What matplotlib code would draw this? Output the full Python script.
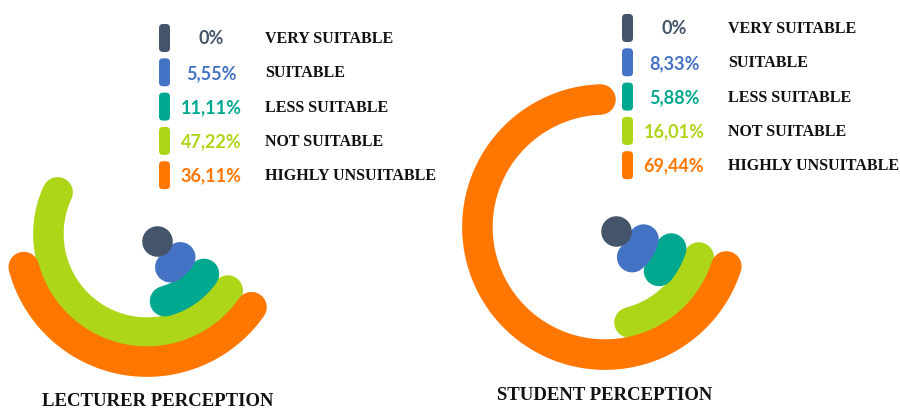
import numpy as np
import matplotlib.pyplot as plt
from matplotlib.patches import FancyBboxPatch

categories = ['VERY SUITABLE', 'SUITABLE', 'LESS SUITABLE', 'NOT SUITABLE', 'HIGHLY UNSUITABLE']
lecturer = [0, 5.55, 11.11, 47.22, 36.11]
student = [0, 8.33, 5.88, 16.01, 69.44]

colors = ['#44546A', '#4472C4', '#00A88F', '#AED619', '#FF7600']
zorders = [6, 5, 4, 2, 3]


def pct(v):
    if v == 0:
        return '0%'
    return '{:.2f}%'.format(v).replace('.', ',')


def draw_rings(ax, values, start=-35):
    """radial bars, each ring starts at the same angle and runs clockwise"""
    ax.set_theta_offset(np.deg2rad(start))
    ax.set_theta_direction(-1)
    for i, (v, c, z) in enumerate(zip(values, colors, zorders)):
        if v == 0:
            ax.plot([0], [i + 0.4], 'o', color=c, ms=22, mew=0, zorder=z)
            continue
        th = np.linspace(0, 2 * np.pi * v / 100, 200)
        ax.plot(th, np.full_like(th, i + 0.4), color=c, lw=22,
                solid_capstyle='round', zorder=z)
    ax.set_ylim(0, 5)
    ax.axis('off')


def draw_legend(ax, values, x0, y0, step=34.3):
    for i, (v, c, name) in enumerate(zip(values, colors, categories)):
        y = y0 + i * step
        ax.add_patch(FancyBboxPatch((x0 - 5, y - 14), 11, 28,
                                    boxstyle='round,pad=0,rounding_size=4',
                                    fc=c, ec='none'))
        ax.text(x0 + 47, y, pct(v), color=c, ha='center', va='center',
                fontsize=13, fontweight='bold', family='Lato')
        ax.text(x0 + 101, y, name, ha='left', va='center', color='#111111',
                fontsize=11.5, fontweight='bold', family='Liberation Serif')


fig = plt.figure(figsize=(9, 4.1), dpi=100)

ax1 = fig.add_axes([2 / 900, 30 / 410, 290 / 900, 290 / 410], projection='polar')
draw_rings(ax1, lecturer, start=-35)

ax2 = fig.add_axes([460 / 900, 37 / 410, 290 / 900, 290 / 410], projection='polar')
draw_rings(ax2, student, start=-18)

# overlay in pixel units for legends and titles
ov = fig.add_axes([0, 0, 1, 1])
ov.set_xlim(0, 900)
ov.set_ylim(410, 0)
ov.axis('off')

draw_legend(ov, lecturer, 164, 39)
draw_legend(ov, student, 627, 29)

ov.text(158, 402, 'LECTURER PERCEPTION', ha='center', va='center', color='#111111',
        fontsize=13.5, fontweight='bold', family='Liberation Serif')
ov.text(605, 396, 'STUDENT PERCEPTION', ha='center', va='center', color='#111111',
        fontsize=13.5, fontweight='bold', family='Liberation Serif')

fig.savefig('out.png', dpi=100)
